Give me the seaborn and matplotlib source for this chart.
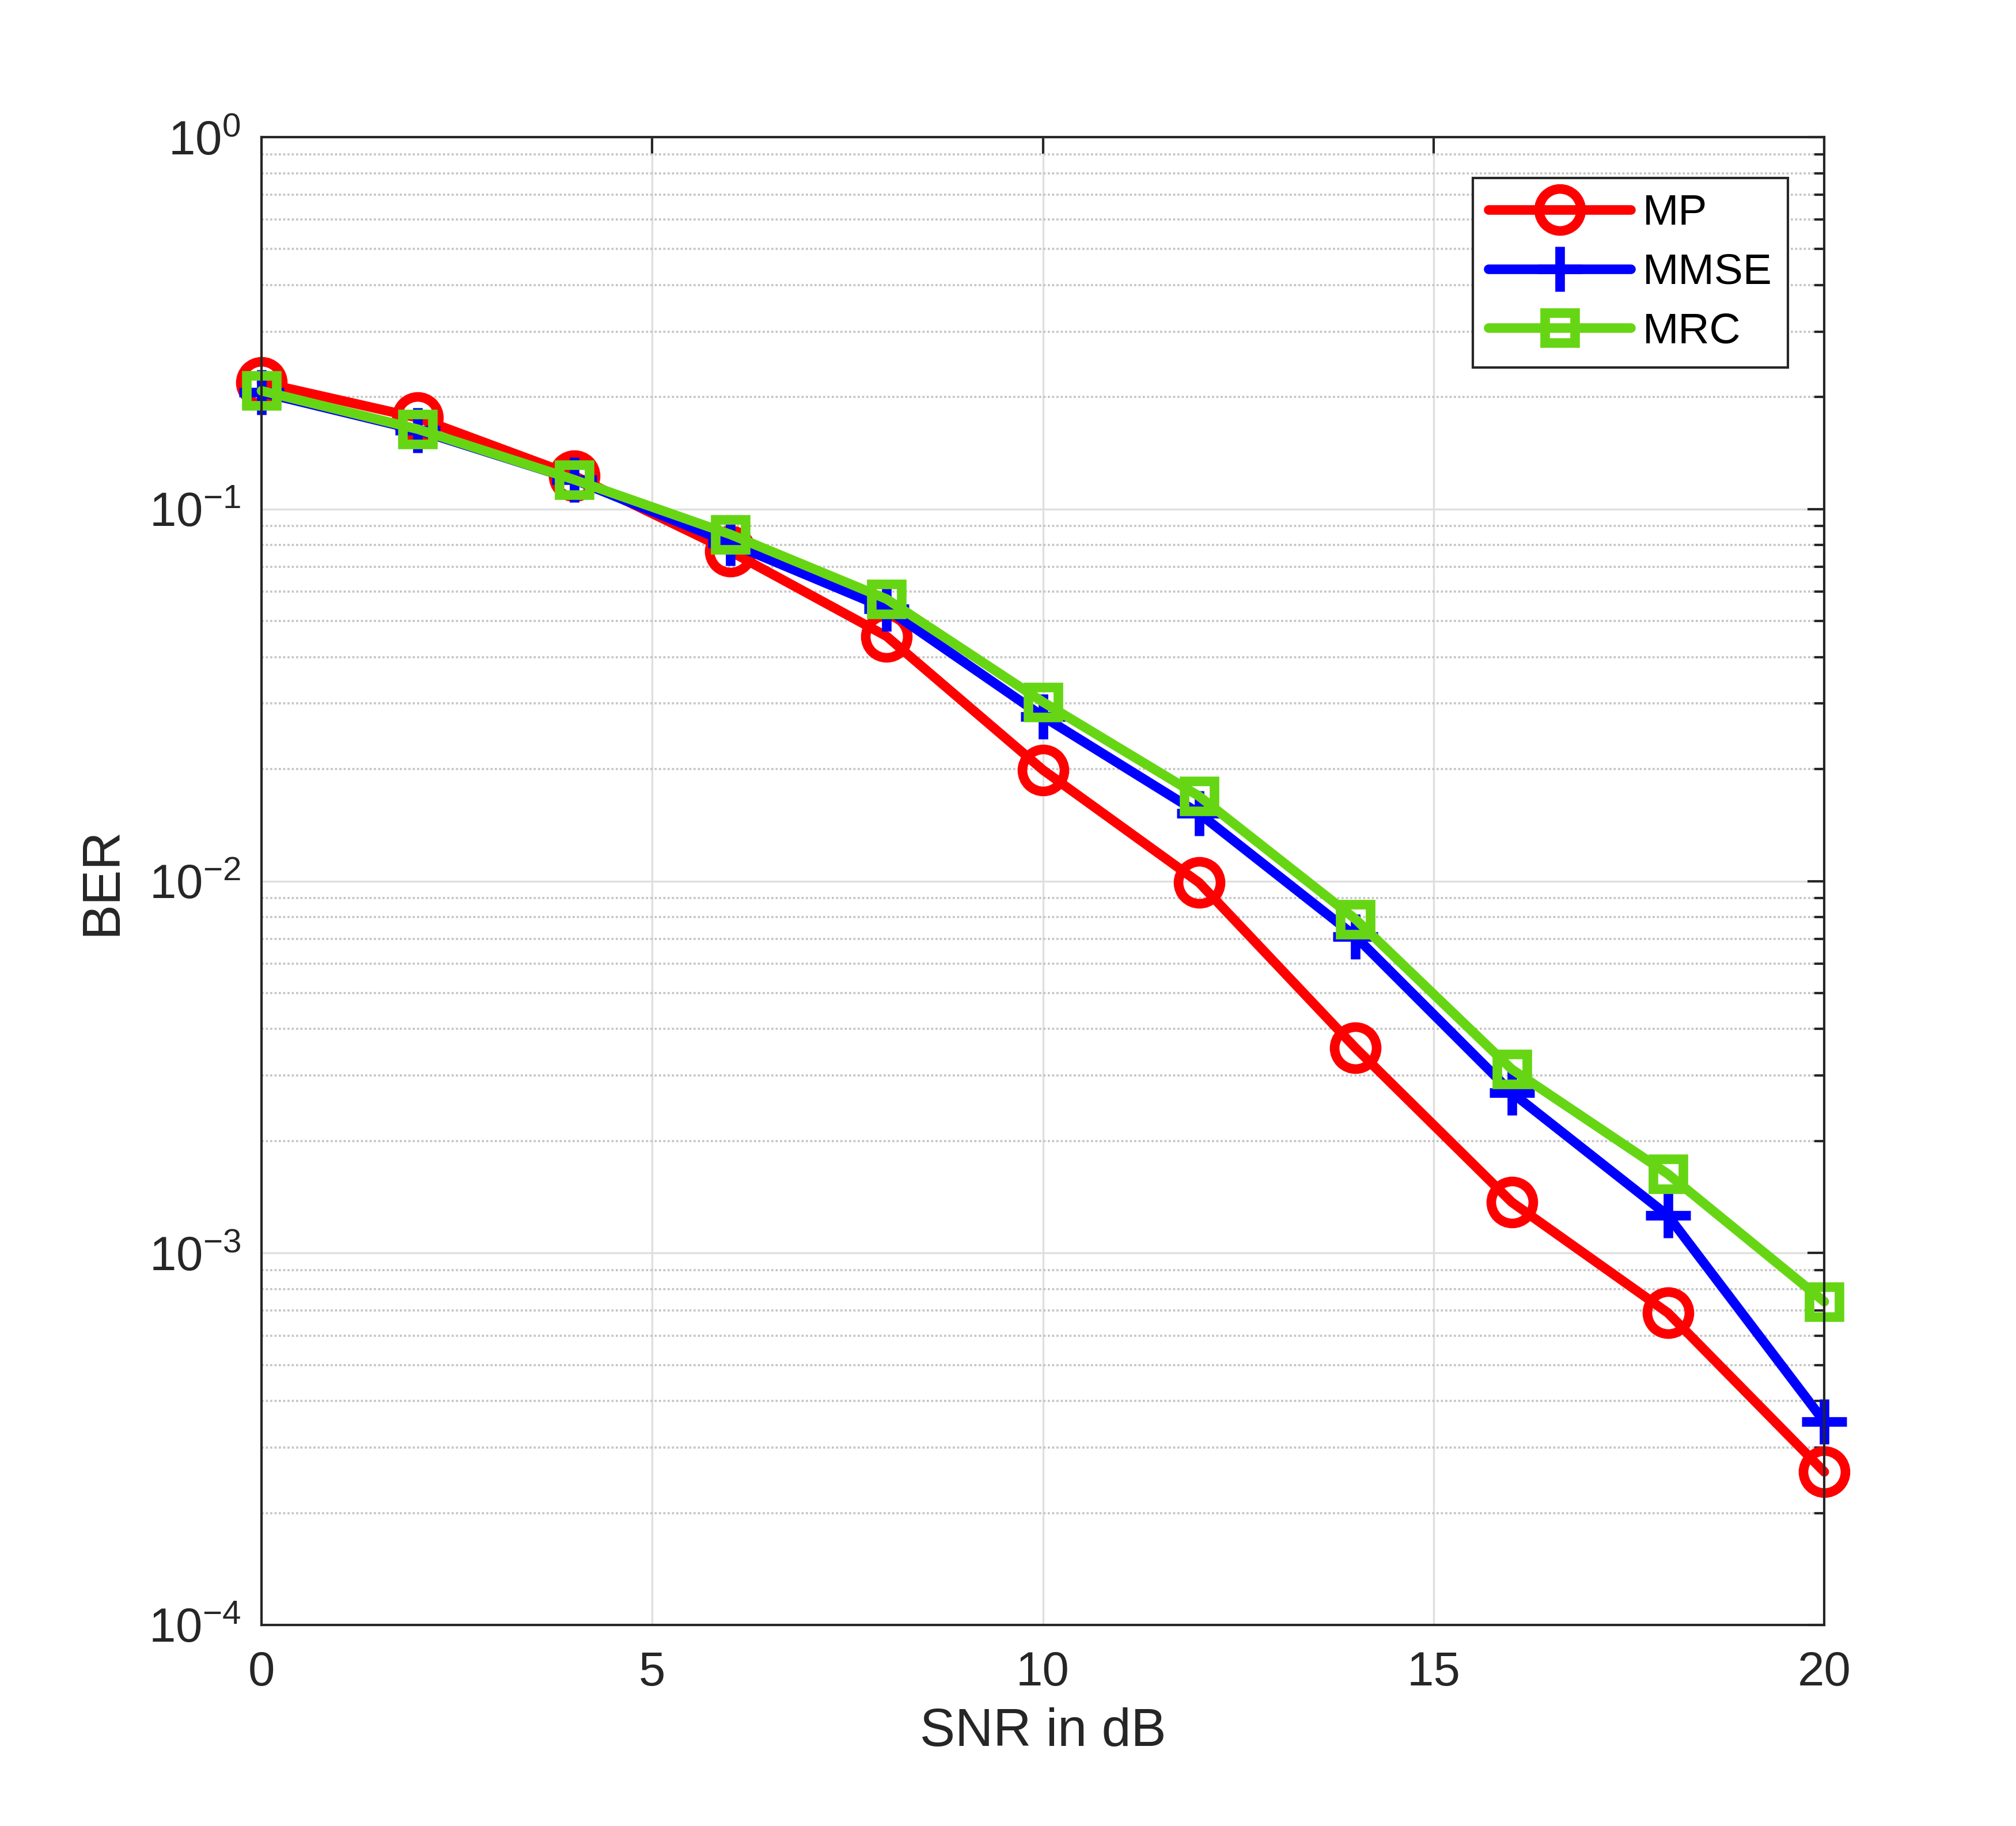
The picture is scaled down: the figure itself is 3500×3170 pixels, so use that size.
"""BER vs SNR for MP / MMSE / MRC detectors"""
import pandas as pd
import seaborn as sns
import matplotlib.pyplot as plt
from matplotlib.ticker import LogLocator, NullLocator, NullFormatter

# values
snr_db = [0, 2, 4, 6, 8, 10, 12, 14, 16, 18, 20]
ber_mp = [0.219, 0.176, 0.123, 0.077, 0.0455, 0.0199, 0.0099, 0.00356, 0.00137, 0.00069, 0.000258]
ber_mmse = [0.206, 0.163, 0.120, 0.081, 0.054, 0.0277, 0.0152, 0.0071, 0.0027, 0.00126, 0.000352]
ber_mrc = [0.208, 0.164, 0.120, 0.0855, 0.0573, 0.0303, 0.0169, 0.0079, 0.00312, 0.00163, 0.00074]
series_names = ["MP", "MMSE", "MRC"]
x_ticks = [0, 5, 10, 15, 20]
y_ticks = [1e-4, 1e-3, 1e-2, 1e-1, 1]

df = pd.DataFrame({"SNR": snr_db, "MP": ber_mp, "MMSE": ber_mmse, "MRC": ber_mrc})

sns.set_theme(style="white")
plt.rcParams.update({
    "font.family": ["Liberation Sans", "DejaVu Sans"],
    "mathtext.fontset": "custom",
    "mathtext.rm": "Liberation Sans",
    "mathtext.sf": "Liberation Sans",
    "mathtext.it": "Liberation Sans:italic",
    "mathtext.bf": "Liberation Sans:bold",
    "axes.edgecolor": "#262626",
    "axes.linewidth": 1.0,
    "axes.labelcolor": "#262626",
    "xtick.color": "#262626",
    "ytick.color": "#262626",
})

styles = {
    "MP": dict(color="#FF0000", marker="o", markersize=17.5, markerfacecolor="none"),
    "MMSE": dict(color="#0000FF", marker="+", markersize=18.5),
    "MRC": dict(color="#66D614", marker="s", markersize=12.5, markerfacecolor="none"),
}

fig = plt.figure(figsize=(3500 / 300, 3170 / 300), dpi=300)
ax = fig.add_axes([0.1297, 0.1101, 0.7752, 0.8148])

for name in series_names:
    st = styles[name]
    sns.lineplot(
        data=df, x="SNR", y=name, ax=ax,
        linewidth=4, markeredgewidth=4, markeredgecolor=st["color"],
        label=name, clip_on=False, **st
    )

ax.set_yscale("log")
ax.set_xlim(0, 20)
ax.set_ylim(1e-4, 1)
ax.set_xticks(x_ticks)
ax.set_yticks(y_ticks)
ax.xaxis.set_minor_locator(NullLocator())
ax.yaxis.set_minor_locator(LogLocator(base=10, subs=range(2, 10), numticks=20))
ax.yaxis.set_minor_formatter(NullFormatter())

ax.tick_params(which="both", direction="in", top=True, right=True, width=1.0)
ax.tick_params(which="major", length=7, labelsize=20)
ax.tick_params(which="minor", length=4)
ax.tick_params(axis="x", pad=10.5)
ax.tick_params(axis="y", pad=8.6)

ax.grid(which="major", color="#dfdfdf", linewidth=0.8, linestyle="-")
ax.grid(which="minor", axis="y", color="#c6c6c6", linewidth=0.9, linestyle=(0, (1, 1)))
ax.set_axisbelow(True)

ax.set_xlabel("SNR in dB", fontsize=22, labelpad=5)
ax.set_ylabel("BER", fontsize=22, labelpad=9)

leg = ax.legend(
    loc="upper right", bbox_to_anchor=(0.9768, 0.9725), borderaxespad=0,
    fontsize=18, handlelength=3.3, handletextpad=0.28, borderpad=0.36,
    labelspacing=0.45, fancybox=False, framealpha=1, edgecolor="#262626",
    labelcolor="black",
)
leg.get_frame().set_linewidth(1.0)

fig.savefig("out.png", dpi=300)
